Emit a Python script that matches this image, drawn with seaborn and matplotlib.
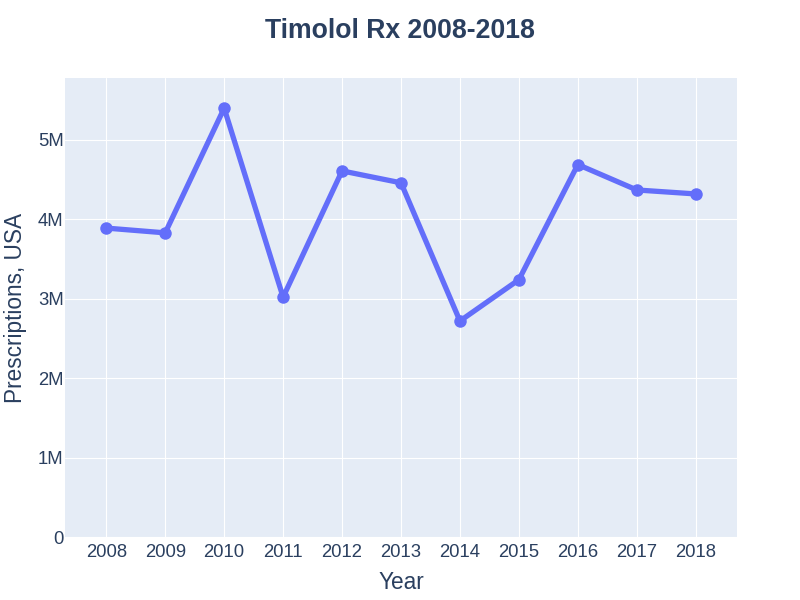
import matplotlib
matplotlib.use("Agg")
import matplotlib.pyplot as plt
import seaborn as sns
import pandas as pd
from matplotlib.ticker import FuncFormatter

years = [2008, 2009, 2010, 2011, 2012, 2013, 2014, 2015, 2016, 2017, 2018]
prescriptions = [3.89e6, 3.83e6, 5.40e6, 3.02e6, 4.61e6, 4.46e6, 2.72e6, 3.24e6, 4.69e6, 4.37e6, 4.32e6]

df = pd.DataFrame({'Year': years, 'Prescriptions': prescriptions})

sns.set_style("darkgrid", {'axes.facecolor': '#E5ECF6', 'grid.color': 'white'})
plt.rcParams['font.family'] = ['Liberation Sans', 'DejaVu Sans']
text_col = '#2a3f5f'

fig = plt.figure(figsize=(8, 6), dpi=100)
ax = fig.add_axes([0.08125, 0.105, 0.84, 0.765])
sns.lineplot(x='Year', y='Prescriptions', data=df, ax=ax, color='#636EFA',
             linewidth=3.8, marker='o', markersize=9, markeredgewidth=0)

ax.set_xlim(2007.3, 2018.7)
ax.set_ylim(0, 5.78e6)
ax.set_xticks(years)
ax.set_yticks([0, 1e6, 2e6, 3e6, 4e6, 5e6])
ax.yaxis.set_major_formatter(FuncFormatter(lambda v, p: '0' if v == 0 else f'{int(v/1e6)}M'))
ax.grid(True, color='white', linewidth=0.8)
for s in ax.spines.values():
    s.set_visible(False)
ax.tick_params(length=0, labelsize=13.3, colors=text_col)
ax.tick_params(axis='x', pad=5)
ax.tick_params(axis='y', pad=1)
ax.set_xlabel('Year', fontsize=16.3, color=text_col, labelpad=7)
ax.set_ylabel('Prescriptions, USA', fontsize=16.3, color=text_col, labelpad=8)
fig.text(0.5, 0.948, 'Timolol Rx 2008-2018', ha='center', va='center',
         fontsize=19.2, fontweight='bold', color=text_col)

plt.savefig('out.png', dpi=100)
